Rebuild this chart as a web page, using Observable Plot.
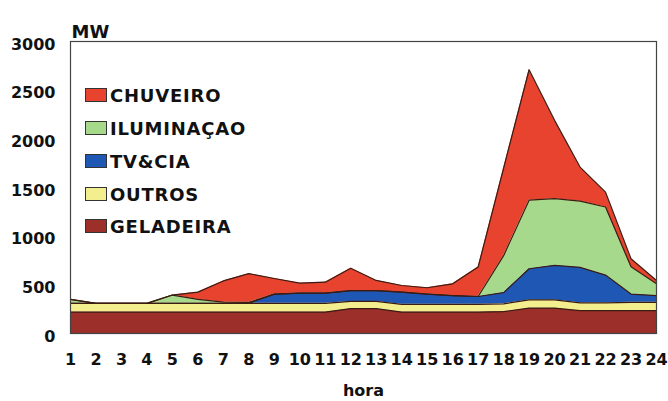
<!DOCTYPE html>
<html>
<head>
<meta charset="utf-8">
<script src="https://cdn.jsdelivr.net/npm/d3@7"></script>
<script src="https://cdn.jsdelivr.net/npm/@observablehq/plot@0.6"></script>
<style>
  html, body { margin: 0; padding: 0; background: #fff; }
  #wrap { position: relative; width: 668px; height: 401px; }
  .leg { position: absolute; left: 85px; display: flex; align-items: center;
         font-family: "DejaVu Sans", sans-serif; font-weight: bold; font-size: 18px;
         letter-spacing: 0.8px; color: #111; }
  .leg .sw { width: 22px; height: 14px; margin-right: 3px; box-sizing: border-box; border: 1px solid #333; }
</style>
</head>
<body>
<div id="wrap"></div>
<script>
const hours = [1,2,3,4,5,6,7,8,9,10,11,12,13,14,15,16,17,18,19,20,21,22,23,24];
const seriesNames = ["GELADEIRA", "OUTROS", "TV&CIA", "ILUMINAÇAO", "CHUVEIRO"];
const seriesColors = ["#9c2f2a", "#f3ef8e", "#1f58b4", "#a6d98c", "#e8432f"];
const legendOrder = ["CHUVEIRO", "ILUMINAÇAO", "TV&CIA", "OUTROS", "GELADEIRA"];
const yTicks = [0, 500, 1000, 1500, 2000, 2500, 3000];

const geladeira = [220,220,220,220,220,220,220,220,220,220,220,255,255,220,220,220,220,225,260,260,235,235,235,235];
const outros    = [90,90,90,90,90,90,90,90,90,90,90,75,75,80,80,80,80,80,85,85,80,80,85,85];
const tvcia     = [0,0,0,0,0,0,0,0,95,105,105,110,110,125,105,90,80,115,320,355,365,285,85,70];
const iluminacao= [40,0,0,0,85,40,12,10,0,0,0,0,0,0,0,0,0,380,705,685,680,700,280,120];
const chuveiro  = [0,0,0,0,0,75,218,295,160,102,112,230,105,68,65,120,302,900,1340,805,350,152,83,35];

const valuesBySeries = {
  "GELADEIRA": geladeira,
  "OUTROS": outros,
  "TV&CIA": tvcia,
  "ILUMINAÇAO": iluminacao,
  "CHUVEIRO": chuveiro
};

const data = [];
for (const s of seriesNames) {
  hours.forEach((h, i) => data.push({hora: h, serie: s, mw: valuesBySeries[s][i]}));
}

const stackOpts = {x: "hora", y: "mw", z: "serie", order: seriesNames};

const chart = Plot.plot({
  width: 668,
  height: 401,
  marginLeft: 70,
  marginRight: 12,
  marginTop: 41,
  marginBottom: 68,
  style: {fontFamily: "DejaVu Sans, sans-serif", fontWeight: "bold", fontSize: "16px", background: "#fff", color: "#111"},
  x: {domain: [1, 24]},
  y: {domain: [0, 3000]},
  color: {domain: seriesNames, range: seriesColors},
  marks: [
    Plot.areaY(data, Plot.stackY({...stackOpts, fill: "serie", curve: "linear"})),
    Plot.lineY(data, Plot.stackY2({...stackOpts, stroke: "#3a1c12", strokeWidth: 1.2, curve: "linear"})),
    Plot.frame({stroke: "#444", strokeWidth: 1.2}),
    Plot.axisX({ticks: hours, tickFormat: d => String(d), tickSize: 0, tickPadding: 20,
                label: "hora", labelAnchor: "center", labelArrow: "none", labelOffset: 62, fontSize: 16}),
    Plot.axisY({ticks: yTicks, tickFormat: d => String(d), tickSize: 0, tickPadding: 15, dy: 3,
                label: null, fontSize: 16}),
    Plot.text(["MW"], {frameAnchor: "top-left", text: d => d, textAnchor: "start", dx: 1, dy: -16, fontSize: 18, fontWeight: "bold"})
  ]
});

const wrap = document.getElementById("wrap");
wrap.appendChild(chart);

const rowTops = [95, 128, 161, 194, 226];
legendOrder.forEach((name, i) => {
  const row = document.createElement("div");
  row.className = "leg";
  row.style.top = (rowTops[i] - 11) + "px";
  row.style.height = "22px";
  const sw = document.createElement("span");
  sw.className = "sw";
  sw.style.background = seriesColors[seriesNames.indexOf(name)];
  const tx = document.createElement("span");
  tx.textContent = name;
  row.appendChild(sw);
  row.appendChild(tx);
  wrap.appendChild(row);
});
</script>
</body>
</html>
